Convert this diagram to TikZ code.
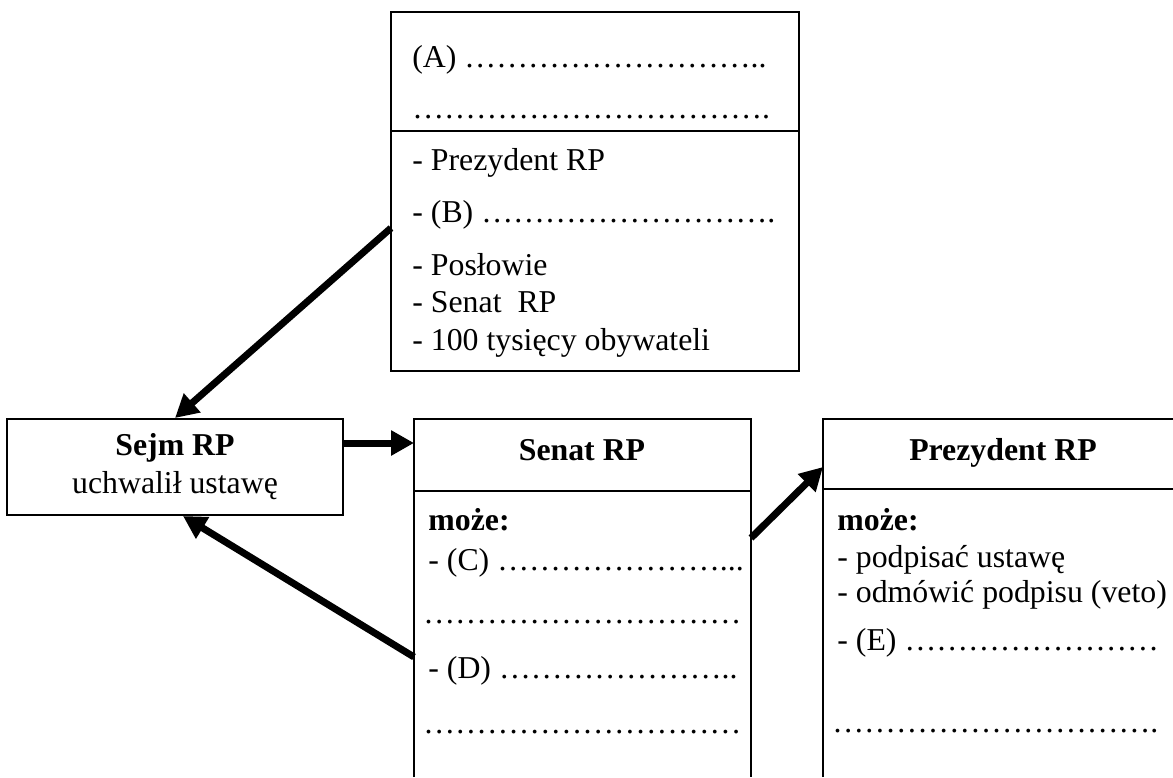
\documentclass[tikz,border=0pt]{standalone}
\usepackage{fontspec}
\setmainfont{Liberation Serif}
\usetikzlibrary{arrows.meta, positioning}
\tikzset{ramka/.style = {line width = 1pt}}
\tikzset{strzalka/.style = {-{Triangle[length = 11.5pt, width = 12pt]}, line width = 3.5pt}}
\tikzset{wiersz/.style = {anchor = base west, inner sep = 0pt}}
\tikzset{naglowek/.style = {anchor = base, inner sep = 0pt, font = \bfseries}}
\newcommand{\kropki}[1]{\foreach \k in {1, ..., #1}{…}}

\begin{document}
\fontsize{15.9}{19}\selectfont
\begin{tikzpicture}[x = 0.5pt, y = -0.5pt]
	\useasboundingbox (0, 0) rectangle (1173, 777);
	% Ramka górna (inicjatywa)
	\draw[ramka] (391, 12) rectangle (799, 371);
	\draw[ramka] (391, 131) -- (799, 131);
	\node[wiersz] (liniaA) at (412, 67) {(A) \kropki{9}..};
	\node[wiersz] (liniaA2) at (412, 118) {\kropki{11}.};
	\node[wiersz] (zgPrezydent) at (412, 170) {- Prezydent RP};
	\node[wiersz] (liniaB) at (412, 222) {- (B) \kropki{9}.};
	\node[wiersz] (zgPoslowie) at (412, 275) {- Posłowie};
	\node[wiersz] (zgSenat) at (412, 312) {- Senat\ \ RP};
	\node[wiersz] (zgObywatele) at (412, 350) {- 100 tysięcy obywateli};
	% Sejm
	\node[draw, ramka, minimum width = 168pt, minimum height = 48pt, align = center, inner sep = 0pt] (sejm) at (175, 467) {\textbf{Sejm RP}\\uchwalił ustawę};
	% Senat
	\draw[ramka] (414, 777) -- (414, 419) -- (751, 419) -- (751, 777);
	\draw[ramka] (414, 491) -- (751, 491);
	\node[naglowek] (senatNaglowek) at (582, 460) {Senat RP};
	\node[wiersz, font = \bfseries] (senatMoze) at (428, 530) {może:};
	\node[wiersz] (liniaC) at (428, 570) {- (C) \kropki{7}...};
	\node[wiersz] (liniaC2) at (423, 623) {\kropki{10}};
	\node[wiersz] (liniaD) at (428, 678) {- (D) \kropki{7}..};
	\node[wiersz] (liniaD2) at (423, 733) {\kropki{10}};
	% Prezydent
	\draw[ramka] (823, 777) -- (823, 419) -- (1173, 419);
	\draw[ramka] (823, 489) -- (1173, 489);
	\node[naglowek] (prezNaglowek) at (1003, 460) {Prezydent RP};
	\node[wiersz, font = \bfseries] (prezMoze) at (837, 530) {może:};
	\node[wiersz] (prezPodpis) at (837, 567) {- podpisać ustawę};
	\node[wiersz] (prezVeto) at (837, 602) {- odmówić podpisu (veto)};
	\node[wiersz] (liniaE) at (837, 650) {- (E) \kropki{8}};
	\node[wiersz] (liniaE2) at (832, 732) {\kropki{10}.};
	% Końce strzałek
	\coordinate (wyjscieB) at (391, 228);
	\coordinate (wejscieSenat) at (414, 443);
	\coordinate (wyjscieD) at (414, 657);
	\coordinate (wyjscieC) at (751, 538);
	\coordinate (wejsciePrez) at (823, 467);
	% Strzałki
	\draw[strzalka] (wyjscieB) -- (sejm.north);
	\draw[strzalka] ([yshift = 12pt]sejm.east) -- (wejscieSenat);
	\draw[strzalka] (wyjscieD) -- ([xshift = 4pt]sejm.south);
	\draw[strzalka] (wyjscieC) -- (wejsciePrez);
\end{tikzpicture}
\end{document}
